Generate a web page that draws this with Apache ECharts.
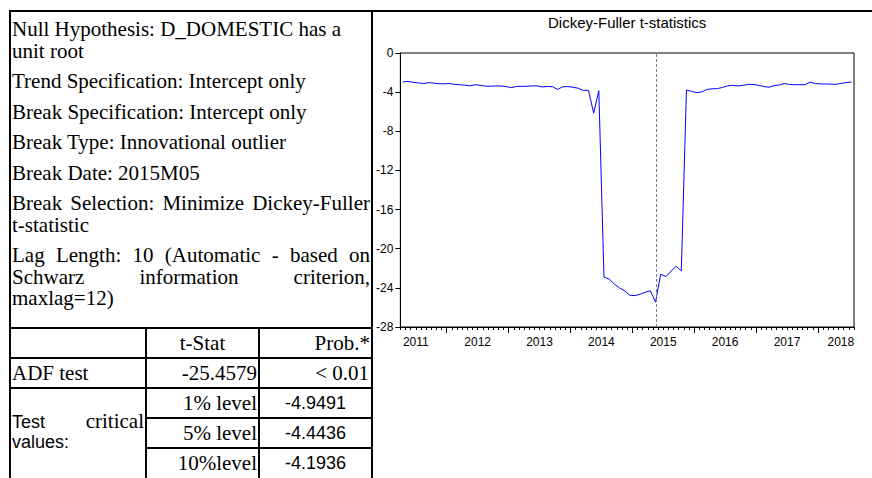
<!DOCTYPE html>
<html lang="en">
<head>
<meta charset="UTF-8">
<title>Dickey-Fuller t-statistics</title>
<script src="https://cdn.jsdelivr.net/npm/echarts@6/dist/echarts.min.js"></script>
<style>
html, body { margin: 0; padding: 0; background: #fff; }
body { width: 872px; height: 478px; overflow: hidden; position: relative; }
.rule { position: absolute; background: #000; }
.txt { position: absolute; left: 12px; top: 19px; width: 358px; color: #000;
       font-family: "Liberation Serif", "Times New Roman", serif; font-size: 21px; line-height: 21.5px; }
.gap { margin-top: 9px; }
.j { text-align: justify; text-align-last: justify; }
.cell { position: absolute; height: 28px; line-height: 28px; color: #000; white-space: nowrap;
        font-family: "Liberation Serif", "Times New Roman", serif; font-size: 21px; }
.sans { font-family: Arial, "Liberation Sans", sans-serif; font-size: 18px; }
#chart { position: absolute; left: 373px; top: 12px; width: 499px; height: 466px; }
</style>
</head>
<body>
<!-- outer frame -->
<div class="rule" style="left:9px;top:10px;width:863px;height:2px"></div>
<div class="rule" style="left:9px;top:10px;width:2px;height:468px"></div>
<div class="rule" style="left:371px;top:10px;width:2px;height:468px"></div>

<div class="txt">
  <div>Null Hypothesis: D_DOMESTIC has a</div>
  <div>unit root</div>
  <div class="gap">Trend Specification: Intercept only</div>
  <div class="gap">Break Specification: Intercept only</div>
  <div class="gap">Break Type: Innovational outlier</div>
  <div class="gap">Break Date: 2015M05</div>
  <div class="gap j">Break Selection: Minimize Dickey-Fuller</div>
  <div>t-statistic</div>
  <div class="gap j">Lag Length: 10 (Automatic - based on</div>
  <div class="j">Schwarz information criterion,</div>
  <div>maxlag=12)</div>
</div>

<!-- result table -->
<div class="rule" style="left:9px;top:327px;width:364px;height:2px"></div>
<div class="rule" style="left:9px;top:357px;width:364px;height:2px"></div>
<div class="rule" style="left:9px;top:387px;width:364px;height:2px"></div>
<div class="rule" style="left:145px;top:417px;width:228px;height:2px"></div>
<div class="rule" style="left:145px;top:447px;width:228px;height:2px"></div>
<div class="rule" style="left:145px;top:327px;width:2px;height:151px"></div>
<div class="rule" style="left:258px;top:327px;width:2px;height:151px"></div>

<div class="cell" style="left:147px;top:329px;width:111px;text-align:center">t-Stat</div>
<div class="cell" style="left:260px;top:329px;width:110px;text-align:right">Prob.*</div>
<div class="cell" style="left:12px;top:359px;width:130px">ADF test</div>
<div class="cell" style="left:147px;top:359px;width:110px;text-align:right">-25.4579</div>
<div class="cell" style="left:260px;top:359px;width:109px;text-align:right">&lt; 0.01</div>
<div class="cell" style="left:147px;top:389px;width:110px;text-align:right">1% level</div>
<div class="cell" style="left:147px;top:419px;width:110px;text-align:right">5% level</div>
<div class="cell" style="left:147px;top:449px;width:110px;text-align:right">10%level</div>
<div class="cell sans" style="left:260px;top:389px;width:111px;text-align:center">-4.9491</div>
<div class="cell sans" style="left:260px;top:419px;width:111px;text-align:center">-4.4436</div>
<div class="cell sans" style="left:260px;top:449px;width:111px;text-align:center">-4.1936</div>
<div class="cell" style="left:12px;top:411px;width:132px;height:21.5px;line-height:21.5px;text-align:justify;text-align-last:justify;white-space:normal"><span class="sans">Test</span> critical</div>
<div class="cell sans" style="left:12px;top:432px;width:132px;height:21.5px;line-height:21.5px">values:</div>

<div id="chart"></div>

<script>
// monthly Dickey-Fuller t-statistics, 2011M04 .. 2018M07
var startYear = 2011, startMonth = 4;
var tstats = [
  -2.96, -2.90, -3.00, -3.05, -3.12, -3.03, -3.08, -3.14, -3.15, -3.12,
  -3.20, -3.25, -3.28, -3.36, -3.24, -3.30, -3.38, -3.40, -3.37, -3.37,
  -3.42, -3.54, -3.42, -3.41, -3.40, -3.36, -3.36, -3.47, -3.42, -3.44,
  -3.72, -3.45, -3.43, -3.50, -3.60, -3.82, -3.82, -6.15, -3.85, -22.90,
  -23.10, -23.60, -24.00, -24.30, -24.75, -24.80, -24.65, -24.45, -24.30, -25.46,
  -22.60, -22.85, -22.30, -21.80, -22.27, -3.78, -3.92, -4.05, -3.97, -3.72,
  -3.66, -3.64, -3.52, -3.36, -3.30, -3.37, -3.30, -3.20, -3.22, -3.30,
  -3.42, -3.50, -3.33, -3.27, -3.12, -3.22, -3.24, -3.24, -3.24, -2.97,
  -3.13, -3.15, -3.17, -3.18, -3.20, -3.10, -3.03, -2.96
];
var breakIndex = 49; // 2015M05
var yearTicks = [2012, 2013, 2014, 2015, 2016, 2017, 2018];
var yearLabelPos = [2011.5, 2012.5, 2013.5, 2014.5, 2015.5, 2016.5, 2017.5, 2018.37];

var xMin = startYear + (startMonth - 1) / 12;
var xMax = xMin + tstats.length / 12;
function monthX(i) { return xMin + (i + 0.5) / 12; }

var monthTicks = [];
for (var k = 0; k <= tstats.length; k++) monthTicks.push(xMin + k / 12);

var seriesData = tstats.map(function (v, i) { return [monthX(i), v]; });

var font = 'Arial, "Liberation Sans", sans-serif';
var chart = echarts.init(document.getElementById('chart'), null, { renderer: 'svg' });
chart.setOption({
  animation: false,
  title: {
    text: 'Dickey-Fuller t-statistics',
    left: 175, top: 3, padding: 0,
    textStyle: { fontSize: 15, fontWeight: 'normal', color: '#000', fontFamily: font }
  },
  grid: { left: 26, top: 41, width: 455, height: 274, show: true, borderColor: '#000', borderWidth: 1 },
  xAxis: [{
    type: 'value', min: xMin, max: xMax, position: 'bottom',
    axisLine: { show: true, onZero: false, lineStyle: { color: '#000', width: 1 } },
    axisTick: { show: true, inside: false, length: 3, customValues: monthTicks, lineStyle: { color: '#000' } },
    axisLabel: {
      customValues: yearLabelPos, margin: 9, color: '#000', fontSize: 12, fontFamily: font,
      formatter: function (v) { return String(Math.floor(v)); }
    },
    splitLine: { show: false }
  }, {
    type: 'value', min: xMin, max: xMax, position: 'bottom',
    axisLine: { show: false, onZero: false },
    axisTick: { show: true, inside: false, length: 6, customValues: yearTicks, lineStyle: { color: '#000' } },
    axisLabel: { show: false },
    splitLine: { show: false }
  }],
  yAxis: {
    type: 'value', min: -28, max: 0, interval: 4,
    axisLine: { show: true, onZero: false, lineStyle: { color: '#000', width: 1 } },
    axisTick: { show: true, length: 5, lineStyle: { color: '#000' } },
    axisLabel: { color: '#000', fontSize: 12, margin: 7, fontFamily: font },
    splitLine: { show: false }
  },
  series: [{
    type: 'line',
    data: seriesData,
    symbol: 'none',
    lineStyle: { color: '#0000ff', width: 1 },
    markLine: {
      silent: true,
      symbol: ['none', 'none'],
      label: { show: false },
      lineStyle: { color: '#808080', type: [3, 2], width: 1 },
      data: [{ xAxis: monthX(breakIndex) }]
    }
  }]
});
</script>
</body>
</html>
